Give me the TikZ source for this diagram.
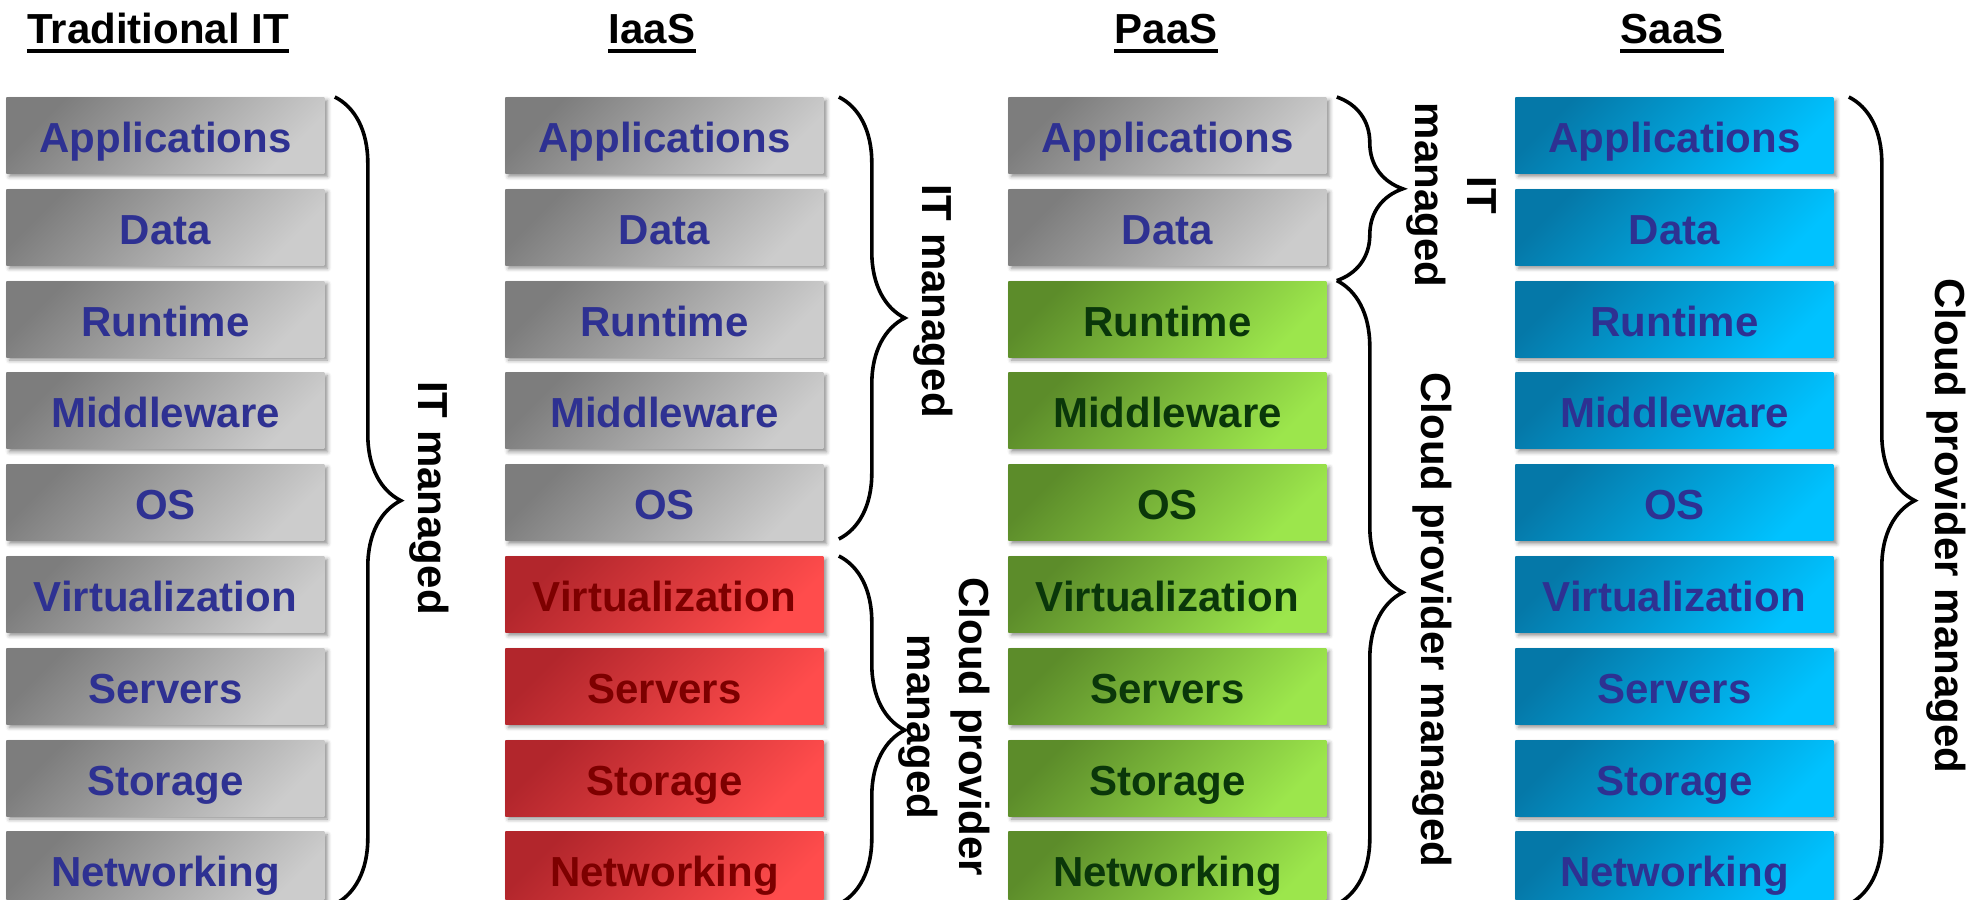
\documentclass[tikz,border=0pt]{standalone}
\usepackage{fontspec}
\setmainfont{Liberation Sans}
\usepackage{xcolor}
\usepackage{tikz}
\usetikzlibrary{positioning}
\usetikzlibrary{decorations.pathreplacing}
\usetikzlibrary{shadows.blur}

\definecolor{layerblue}{RGB}{46,49,146}
\definecolor{greydark}{RGB}{125,125,125}
\definecolor{greylight}{RGB}{204,204,204}
\definecolor{reddark}{RGB}{178,38,44}
\definecolor{redlight}{RGB}{255,76,76}
\definecolor{redtext}{RGB}{125,0,0}
\definecolor{greendark}{RGB}{92,140,42}
\definecolor{greenlight}{RGB}{156,230,76}
\definecolor{greentext}{RGB}{10,55,10}
\definecolor{bluedark}{RGB}{5,120,168}
\definecolor{bluelight}{RGB}{0,194,255}

\tikzset{
  layer/.style={
    minimum width=159pt, minimum height=38pt, inner sep=0pt,
    text height=17pt, text depth=0pt,
    font=\fontsize{21}{25}\selectfont\bfseries,
    blur shadow={shadow xshift=1.5pt, shadow yshift=-1.5pt,
      shadow blur radius=2pt, shadow opacity=45},
  },
  grey layer/.style={layer, top color=greydark, bottom color=greylight,
    shading angle=45, text=layerblue},
  red layer/.style={layer, top color=reddark, bottom color=redlight,
    shading angle=45, text=redtext},
  green layer/.style={layer, top color=greendark, bottom color=greenlight,
    shading angle=45, text=greentext},
  blue layer/.style={layer, top color=bluedark, bottom color=bluelight,
    shading angle=45, text=layerblue},
  heading/.style={font=\fontsize{21}{25}\selectfont\bfseries,
    anchor=base, inner sep=0pt},
  heading rule/.style={line width=2pt},
  managed brace/.style={decorate, decoration={brace, amplitude=33pt},
    line width=1.8pt},
  brace label/.style={rotate=-90, align=center, inner sep=0pt,
    font=\fontsize{21}{26}\selectfont\bfseries},
}

\begin{document}
\begin{tikzpicture}[x=0.5pt, y=-0.5pt, node distance=7.5pt]

  \useasboundingbox (0,0) rectangle (1977,900);

  % Headings
  \node[heading] (trad_title) at (158,43) {Traditional IT};
  \node[heading] (iaas_title) at (652,43) {IaaS};
  \node[heading] (paas_title) at (1166,43) {PaaS};
  \node[heading] (saas_title) at (1672,43) {SaaS};

  \draw[heading rule] ([yshift=-3.75pt]trad_title.base west) -- ([yshift=-3.75pt]trad_title.base east);
  \draw[heading rule] ([yshift=-3.75pt]iaas_title.base west) -- ([yshift=-3.75pt]iaas_title.base east);
  \draw[heading rule] ([yshift=-3.75pt]paas_title.base west) -- ([yshift=-3.75pt]paas_title.base east);
  \draw[heading rule] ([yshift=-3.75pt]saas_title.base west) -- ([yshift=-3.75pt]saas_title.base east);

  % Traditional IT stack
  \node[grey layer, anchor=north west] (trad_app) at (6,97) {Applications};
  \node[grey layer, below=of trad_app] (trad_data) {Data};
  \node[grey layer, below=of trad_data] (trad_run) {Runtime};
  \node[grey layer, below=of trad_run] (trad_mid) {Middleware};
  \node[grey layer, below=of trad_mid] (trad_os) {OS};
  \node[grey layer, below=of trad_os] (trad_virt) {Virtualization};
  \node[grey layer, below=of trad_virt] (trad_srv) {Servers};
  \node[grey layer, below=of trad_srv] (trad_sto) {Storage};
  \node[grey layer, below=of trad_sto] (trad_net) {Networking};

  % IaaS stack
  \node[grey layer, anchor=north west] (iaas_app) at (505,97) {Applications};
  \node[grey layer, below=of iaas_app] (iaas_data) {Data};
  \node[grey layer, below=of iaas_data] (iaas_run) {Runtime};
  \node[grey layer, below=of iaas_run] (iaas_mid) {Middleware};
  \node[grey layer, below=of iaas_mid] (iaas_os) {OS};
  \node[red layer, below=of iaas_os] (iaas_virt) {Virtualization};
  \node[red layer, below=of iaas_virt] (iaas_srv) {Servers};
  \node[red layer, below=of iaas_srv] (iaas_sto) {Storage};
  \node[red layer, below=of iaas_sto] (iaas_net) {Networking};

  % PaaS stack
  \node[grey layer, anchor=north west] (paas_app) at (1008,97) {Applications};
  \node[grey layer, below=of paas_app] (paas_data) {Data};
  \node[green layer, below=of paas_data] (paas_run) {Runtime};
  \node[green layer, below=of paas_run] (paas_mid) {Middleware};
  \node[green layer, below=of paas_mid] (paas_os) {OS};
  \node[green layer, below=of paas_os] (paas_virt) {Virtualization};
  \node[green layer, below=of paas_virt] (paas_srv) {Servers};
  \node[green layer, below=of paas_srv] (paas_sto) {Storage};
  \node[green layer, below=of paas_sto] (paas_net) {Networking};

  % SaaS stack
  \node[blue layer, anchor=north west] (saas_app) at (1515,97) {Applications};
  \node[blue layer, below=of saas_app] (saas_data) {Data};
  \node[blue layer, below=of saas_data] (saas_run) {Runtime};
  \node[blue layer, below=of saas_run] (saas_mid) {Middleware};
  \node[blue layer, below=of saas_mid] (saas_os) {OS};
  \node[blue layer, below=of saas_os] (saas_virt) {Virtualization};
  \node[blue layer, below=of saas_virt] (saas_srv) {Servers};
  \node[blue layer, below=of saas_srv] (saas_sto) {Storage};
  \node[blue layer, below=of saas_sto] (saas_net) {Networking};

  % Braces
  \draw[managed brace] ([xshift=5pt]trad_app.north east) -- ([xshift=5pt, yshift=2pt]trad_net.south east);
  \draw[managed brace] ([xshift=7.5pt]iaas_app.north east) -- ([xshift=7.5pt, yshift=1pt]iaas_os.south east);
  \draw[managed brace] ([xshift=7.5pt]iaas_virt.north east) -- ([xshift=7.5pt, yshift=2pt]iaas_net.south east);
  \draw[managed brace] ([xshift=5pt]paas_app.north east) -- ([xshift=5pt]paas_run.north east);
  \draw[managed brace] ([xshift=5pt]paas_run.north east) -- ([xshift=5pt, yshift=2pt]paas_net.south east);
  \draw[managed brace] ([xshift=7.5pt]saas_app.north east) -- ([xshift=7.5pt, yshift=2pt]saas_net.south east);

  % Brace labels
  \node[brace label] (trad_it) at (429,498) {IT managed};
  \node[brace label] (iaas_it) at (933,301) {IT managed};
  \node[brace label] (iaas_cloud) at (944,727) {Cloud provider\\managed};
  \node[brace label] (paas_it) at (1451,195) {IT\\managed};
  \node[brace label] (paas_cloud) at (1432,620) {Cloud provider managed};
  \node[brace label] (saas_cloud) at (1946,526) {Cloud provider managed};

\end{tikzpicture}
\end{document}
